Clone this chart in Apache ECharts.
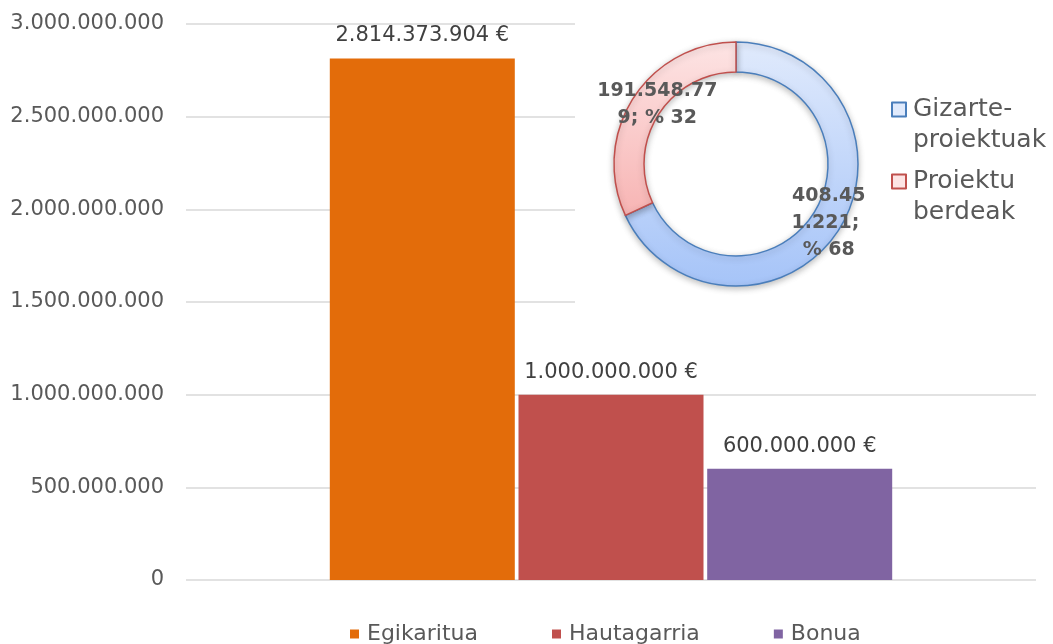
<!DOCTYPE html>
<html>
<head>
<meta charset="utf-8">
<script src="https://cdn.jsdelivr.net/npm/echarts@6/dist/echarts.min.js"></script>
<style>
  html, body { margin: 0; padding: 0; background: #fff; }
  #chart { width: 1053px; height: 644px; }
</style>
</head>
<body>
<div id="chart"></div>
<script>
const barNames = ['Egikaritua', 'Hautagarria', 'Bonua'];
const barValues = [2814373904, 1000000000, 600000000];
const barColors = ['#e36c0a', '#c0504d', '#8064a2'];

const pieNames = ['Gizarte-proiektuak', 'Proiektu berdeak'];
const pieValues = [408451221, 191548779];

const FONT = 'DejaVu Sans';

// 1234567 -> 1.234.567
const fmt = (v) => String(Math.round(v)).replace(/\B(?=(\d{3})+(?!\d))/g, '.');

const grad = (top, bottom) => ({
  type: 'linear', x: 0, y: 42, x2: 0, y2: 286, global: true,
  colorStops: [{ offset: 0, color: top }, { offset: 1, color: bottom }],
});

const pieStyles = [
  { color: grad('#e0eafc', '#a6c4f8'), borderColor: '#4a7ebb' },
  { color: grad('#fde4e4', '#f5a1a0'), borderColor: '#c0504d' },
];
const pieLabelWidths = [78, 122];
const pieLabelOffsets = [[0, 0], [14, 0]];

const chart = echarts.init(document.getElementById('chart'));

chart.setOption({
  backgroundColor: '#fff',
  animation: false,
  textStyle: { fontFamily: FONT },
  grid: { left: 186, right: 17, top: 24, bottom: 64 },
  // white plot area behind the doughnut hides the gridlines there
  graphic: {
    z: 1,
    elements: [
      {
        type: 'rect',
        z: 1,
        shape: { x: 575, y: 0, width: 478, height: 330 },
        style: { fill: '#fff' },
      },
    ],
  },
  legend: [
    {
      data: barNames,
      left: 345,
      top: 618,
      itemWidth: 9,
      itemHeight: 9,
      itemGap: 74,
      icon: 'rect',
      formatter: (name) => '{t|' + name + '}',
      textStyle: {
        color: '#595959',
        fontFamily: FONT,
        rich: { t: { color: '#595959', fontSize: 22, fontFamily: FONT, padding: [0, 0, 0, 3] } },
      },
    },
    {
      data: pieNames,
      orient: 'vertical',
      left: 886,
      top: 58,
      itemWidth: 14,
      itemHeight: 14,
      itemGap: -18,
      icon: 'rect',
      // empty line on top so the square lines up with the first text line
      formatter: (name) => {
        const parts = name.replace(/(-| )/, '$1\n').split('\n');
        return '{g| }\n' + parts.map((p) => '{t|' + p + '}').join('\n');
      },
      textStyle: {
        color: '#595959',
        fontFamily: FONT,
        rich: {
          g: { fontSize: 25, lineHeight: 31, height: 31 },
          t: { color: '#595959', fontSize: 25, lineHeight: 31, fontFamily: FONT, padding: [0, 0, 0, 2] },
        },
      },
    },
  ],
  xAxis: {
    type: 'category',
    data: [''],
    axisLine: { show: false },
    axisTick: { show: false },
    axisLabel: { show: false },
  },
  yAxis: {
    type: 'value',
    min: 0,
    max: 3000000000,
    interval: 500000000,
    z: 0,
    axisLine: { show: false },
    axisTick: { show: false },
    axisLabel: {
      color: '#595959',
      fontSize: 21,
      fontFamily: FONT,
      margin: 22,
      formatter: (v) => fmt(v),
    },
    splitLine: { lineStyle: { color: '#d9d9d9', width: 1.5 } },
  },
  series: [
    ...barNames.map((name, i) => ({
      name,
      type: 'bar',
      barWidth: 185,
      barGap: '2%',
      z: 2,
      itemStyle: { color: barColors[i] },
      label: {
        show: true,
        position: 'top',
        distance: 12,
        color: '#404040',
        fontSize: 21,
        fontFamily: FONT,
        formatter: (p) => fmt(p.value) + ' €',
      },
      data: [barValues[i]],
    })),
    {
      name: 'pie',
      type: 'pie',
      center: [736, 164],
      radius: [92, 122],
      startAngle: 90,
      z: 3,
      itemStyle: {
        borderWidth: 1.5,
        shadowBlur: 6,
        shadowColor: 'rgba(0,0,0,0.25)',
        shadowOffsetY: 2,
      },
      label: {
        show: true,
        position: 'inside',
        color: '#595959',
        fontWeight: 'bold',
        fontSize: 19,
        lineHeight: 27,
        fontFamily: FONT,
        overflow: 'breakAll',
        formatter: (p) => fmt(p.value) + '; % ' + Math.round(p.percent),
      },
      labelLine: { show: false },
      data: pieNames.map((name, i) => ({
        name,
        value: pieValues[i],
        itemStyle: pieStyles[i],
        label: { width: pieLabelWidths[i], offset: pieLabelOffsets[i] },
      })),
    },
  ],
});
</script>
</body>
</html>
